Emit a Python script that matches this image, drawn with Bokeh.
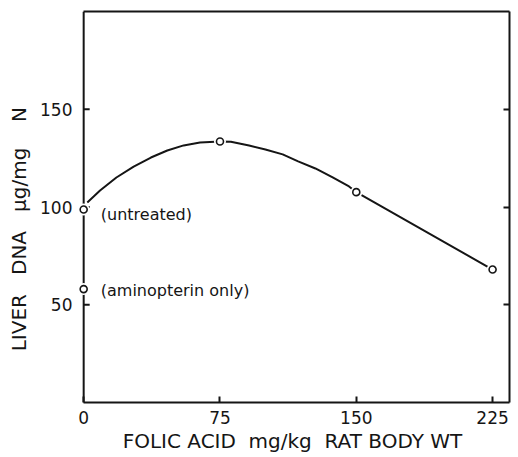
from bokeh.plotting import figure
from bokeh.models import Range1d, LinearAxis, FixedTicker, Label, Span
from bokeh.embed import file_html
from bokeh.resources import INLINE

# ---- data ----
x_ticks = [0, 75, 150, 225]
y_ticks = [50, 100, 150]

# measured means (folic acid dose, liver DNA)
dose = [0, 75, 150, 225]
dna = [98.7, 133.5, 107.6, 68.0]

# aminopterin only point
amin_dose = [0]
amin_dna = [58.0]

# hand-drawn smooth curve
curve_x = [2, 9, 18, 27.5, 37, 46, 55, 64, 75, 81, 91, 100, 109.5, 118, 127.5, 137, 146, 150, 225]
curve_y = [102.3, 108.4, 115.1, 120.7, 125.3, 128.9, 131.5, 133.0, 133.5, 133.4, 131.5, 129.4,
           126.9, 123.3, 119.7, 115.1, 110.5, 107.6, 68.0]

FONT = "DejaVu Sans"
INK = "#151515"
NB = "\u00a0"
X0, X1 = -4.5, 234.3

x_title = f"FOLIC ACID{NB}{NB}mg/kg{NB}{NB}RAT BODY WT"
# trailing no-break spaces push the visible title a little below centre, as in the original
y_title = f"LIVER{NB*3}DNA{NB*3}\u03bcg/mg{NB*4}N" + NB * 7

p = figure(width=518, height=457, output_backend="svg", toolbar_location=None,
           x_range=Range1d(X0, X1), y_range=Range1d(0, 200),
           min_border_left=75, min_border_right=9, min_border_top=11, min_border_bottom=55,
           x_axis_label=x_title, y_axis_label=y_title)
p.title.visible = False
p.grid.visible = False
p.background_fill_color = "white"
p.border_fill_color = "white"
p.outline_line_color = None

for ax in (p.xaxis, p.yaxis):
    ax.axis_line_color = INK
    ax.axis_line_width = 2
    ax.major_tick_line_color = INK
    ax.major_tick_line_width = 2
    ax.major_tick_in = 6
    ax.major_tick_out = 0
    ax.minor_tick_line_color = None
    ax.major_label_text_font = FONT
    ax.major_label_text_font_size = "17px"
    ax.major_label_text_color = INK
    ax.axis_label_text_font = FONT
    ax.axis_label_text_font_size = "20px"
    ax.axis_label_text_font_style = "normal"
    ax.axis_label_text_color = INK

p.xaxis.ticker = FixedTicker(ticks=x_ticks)
p.xaxis.bounds = (0, X1)
p.xaxis.major_label_standoff = 8
p.xaxis.axis_label_standoff = 2

# left axis: labels from Bokeh, line and ticks drawn at x = 0
p.yaxis.ticker = FixedTicker(ticks=y_ticks)
p.yaxis.axis_line_color = None
p.yaxis.major_tick_line_color = None
p.yaxis.major_label_standoff = 3
p.yaxis.axis_label_standoff = 6
p.add_layout(Span(location=0, dimension="height", line_color=INK, line_width=2))
p.segment(x0=[0] * len(y_ticks), y0=y_ticks, x1=[3.3] * len(y_ticks), y1=y_ticks,
          line_color=INK, line_width=2)

ra = LinearAxis(ticker=FixedTicker(ticks=y_ticks),
                major_label_overrides={t: "" for t in y_ticks},
                major_label_text_font_size="0px",
                major_label_standoff=0, major_tick_in=6, major_tick_out=0,
                major_tick_line_color=INK, major_tick_line_width=2,
                minor_tick_line_color=None, axis_line_color=INK, axis_line_width=2)
p.add_layout(ra, "right")

ta = LinearAxis(ticker=FixedTicker(ticks=[]), major_label_text_font_size="0px",
                major_label_standoff=0, major_tick_in=0, major_tick_out=0,
                minor_tick_line_color=None, axis_line_color=INK, axis_line_width=2,
                bounds=(0, X1))
p.add_layout(ta, "above")

# curve
p.line(curve_x, curve_y, line_color=INK, line_width=2)

# white halos give the small gaps around the open circles
for xs, ys in ((dose, dna), (amin_dose, amin_dna)):
    p.scatter(xs, ys, size=12, fill_color="white", line_color=None, level="overlay")
    p.scatter(xs, ys, size=7, marker="circle", fill_color="white", line_color=INK,
              line_width=1.6, level="overlay")

p.add_layout(Label(x=9.4, y=96, text="(untreated)", text_baseline="middle",
                   text_font=FONT, text_font_size="16px", text_color=INK))
p.add_layout(Label(x=9.4, y=57.5, text="(aminopterin only)", text_baseline="middle",
                   text_font=FONT, text_font_size="16px", text_color=INK))

open("out.html", "w").write(file_html(p, INLINE))
